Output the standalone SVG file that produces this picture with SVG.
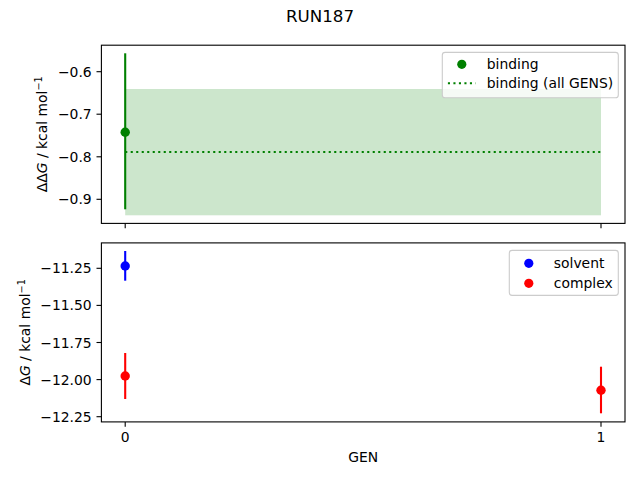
<svg xmlns="http://www.w3.org/2000/svg" width="640" height="480" viewBox="0 0 640 480">
<style>
text{font-family:"DejaVu Sans","Liberation Sans",sans-serif;font-size:13.9px;fill:#000}
.yt{text-anchor:end}
.xt{text-anchor:middle}
.spine{fill:none;stroke:#000;stroke-width:1.1}
.tick{stroke:#000;stroke-width:1.1}
.leg{fill:#fff;fill-opacity:0.8;stroke:#ccc;stroke-width:1.1}
.eb{stroke-width:2.1}
</style>
<rect width="640" height="480" fill="#fff"/>
<text x="320" y="22" text-anchor="middle" style="font-size:16.7px">RUN187</text>

<g id="top-axes">
  <rect x="101.4" y="45.2" width="523.6" height="178.2" fill="#fff"/>
  <g id="connectors-top">
    <line class="eb" x1="125.2" y1="53.3" x2="125.2" y2="209.3" stroke="#008000"/>
    <rect x="125.2" y="89" width="475.8" height="126.3" fill="#008000" fill-opacity="0.2"/>
    <line x1="125.2" y1="152" x2="601" y2="152" stroke="#008000" stroke-width="2.1" stroke-dasharray="2.1,3.4"/>
  </g>
  <circle cx="125.2" cy="132.2" r="4.7" fill="#008000"/>
  <rect class="spine" x="101.4" y="45.2" width="523.6" height="178.2"/>
  <g class="ticks">
    <line class="tick" x1="96.5" y1="71.7" x2="101.4" y2="71.7"/>
    <line class="tick" x1="96.5" y1="114.2" x2="101.4" y2="114.2"/>
    <line class="tick" x1="96.5" y1="156.8" x2="101.4" y2="156.8"/>
    <line class="tick" x1="96.5" y1="199.3" x2="101.4" y2="199.3"/>
    <line class="tick" x1="125.2" y1="223.4" x2="125.2" y2="228.3"/>
    <line class="tick" x1="601" y1="223.4" x2="601" y2="228.3"/>
  </g>
  <text class="yt" x="91.7" y="76.7">−0.6</text>
  <text class="yt" x="91.7" y="119.2">−0.7</text>
  <text class="yt" x="91.7" y="161.8">−0.8</text>
  <text class="yt" x="91.7" y="204.3">−0.9</text>
  <text transform="translate(46.5,134.3) rotate(-90)" text-anchor="middle">ΔΔ<tspan font-style="italic">G</tspan> / kcal mol<tspan dy="-5" style="font-size:9.7px">−1</tspan></text>
  <g id="legend-top">
    <rect class="leg" x="442.3" y="52.4" width="176" height="45.3" rx="2.8"/>
    <circle cx="461.8" cy="64.3" r="4.6" fill="#008000"/>
    <line x1="447.9" y1="83.3" x2="475.7" y2="83.3" stroke="#008000" stroke-width="2.1" stroke-dasharray="2.1,3.4"/>
    <text x="486.8" y="69.3">binding</text>
    <text x="486.8" y="88.3">binding (all GENS)</text>
  </g>
</g>

<g id="bottom-axes">
  <rect x="101.4" y="242.9" width="523.6" height="179" fill="#fff"/>
  <g id="connectors-bottom">
    <line class="eb" x1="125.2" y1="251" x2="125.2" y2="280.7" stroke="#0000ff"/>
    <line class="eb" x1="125.2" y1="353" x2="125.2" y2="399" stroke="#ff0000"/>
    <line class="eb" x1="601" y1="366.7" x2="601" y2="413.3" stroke="#ff0000"/>
  </g>
  <circle cx="125.2" cy="266" r="4.7" fill="#0000ff"/>
  <circle cx="125.2" cy="376" r="4.7" fill="#ff0000"/>
  <circle cx="601" cy="390.3" r="4.7" fill="#ff0000"/>
  <rect class="spine" x="101.4" y="242.9" width="523.6" height="179"/>
  <g class="ticks">
    <line class="tick" x1="96.5" y1="268.3" x2="101.4" y2="268.3"/>
    <line class="tick" x1="96.5" y1="305.4" x2="101.4" y2="305.4"/>
    <line class="tick" x1="96.5" y1="342.5" x2="101.4" y2="342.5"/>
    <line class="tick" x1="96.5" y1="379.6" x2="101.4" y2="379.6"/>
    <line class="tick" x1="96.5" y1="416.7" x2="101.4" y2="416.7"/>
    <line class="tick" x1="125.2" y1="421.9" x2="125.2" y2="426.8"/>
    <line class="tick" x1="601" y1="421.9" x2="601" y2="426.8"/>
  </g>
  <text class="yt" x="91.7" y="273.3">−11.25</text>
  <text class="yt" x="91.7" y="310.4">−11.50</text>
  <text class="yt" x="91.7" y="347.5">−11.75</text>
  <text class="yt" x="91.7" y="384.6">−12.00</text>
  <text class="yt" x="91.7" y="421.7">−12.25</text>
  <text class="xt" x="125.2" y="441.7">0</text>
  <text class="xt" x="601" y="441.7">1</text>
  <text class="xt" x="363.2" y="461.5">GEN</text>
  <text transform="translate(30,332.4) rotate(-90)" text-anchor="middle">Δ<tspan font-style="italic">G</tspan> / kcal mol<tspan dy="-5" style="font-size:9.7px">−1</tspan></text>
  <g id="legend-bottom">
    <rect class="leg" x="509.3" y="250.4" width="109" height="45" rx="2.8"/>
    <circle cx="528.8" cy="263.3" r="4.6" fill="#0000ff"/>
    <circle cx="528.8" cy="283.3" r="4.6" fill="#ff0000"/>
    <text x="553.8" y="268.3">solvent</text>
    <text x="553.8" y="288.3">complex</text>
  </g>
</g>
</svg>
